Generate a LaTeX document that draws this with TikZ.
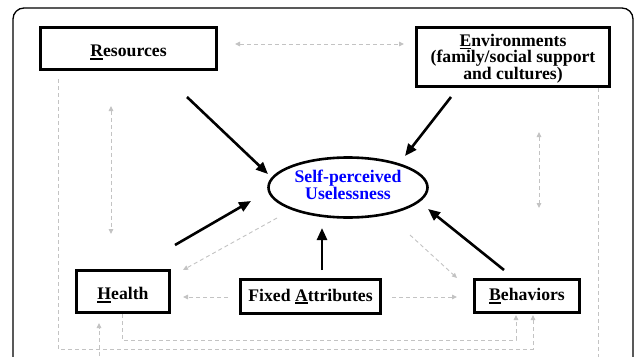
\documentclass[tikz,border=0pt]{standalone}
\usepackage{fontspec}
\setmainfont{Liberation Serif}
\usetikzlibrary{arrows.meta,shapes.geometric}
\definecolor{lgray}{RGB}{195,195,195}
\newcommand{\fu}[1]{\setbox0\hbox{#1}\rlap{\rule[-3pt]{\wd0}{1.8pt}}\box0}
\begin{document}
\begin{tikzpicture}[x=1pt,y=-1pt,
  box/.style={draw,line width=3pt,inner sep=0pt,align=center,font=\fontsize{17.7}{15}\selectfont\bfseries},
  lowtext/.style={text height=16.5pt,text depth=0pt},
  blk/.style={line width=2.6pt,-{Triangle[length=12pt,width=10pt]}},
  gry/.style={draw=lgray,line width=0.9pt,dash pattern=on 4pt off 3pt},
  gtip/.style={-{Triangle[length=5pt,width=4.5pt]}},
  gtips/.style={{Triangle[length=5pt,width=4.5pt]}-{Triangle[length=5pt,width=4.5pt]}}]
\clip (0,0) rectangle (634,356);
\fill[white] (0,0) rectangle (634,356);
\draw[line width=1.3pt,rounded corners=11pt] (13,8) rectangle (633,420);
% nodes
\node[box,lowtext,minimum width=176pt,minimum height=42pt] (res) at (128.5,48.5) {\fu{R}esources};
\node[box,text depth=0pt,minimum width=193pt,minimum height=59pt] (env) at (513,57) {\fu{E}nvironments\\(family/social support\\and cultures)};
\node[box,lowtext,minimum width=93pt,minimum height=42pt] (hl) at (123,291.5) {\fu{H}ealth};
\node[box,minimum width=140pt,minimum height=34pt] (fa) at (310.5,296.5) {Fixed \fu{A}ttributes};
\node[box,minimum width=105pt,minimum height=33pt] (bh) at (527,296) {\fu{B}ehaviors};
\node[ellipse,draw,line width=2.6pt,minimum width=159pt,minimum height=60pt,inner sep=0pt,text depth=6pt,
  text=blue,align=center,font=\fontsize{17.7}{14}\selectfont\bfseries] (spu) at (348,187.5) {Self-perceived\\Uselessness};
% black arrows
\coordinate (a1s) at (187,97);  \coordinate (a1e) at (268,174);
\coordinate (a2s) at (451,97);  \coordinate (a2e) at (405,156);
\coordinate (a3s) at (175,245); \coordinate (a3e) at (251,201);
\coordinate (a4s) at (322,270); \coordinate (a4e) at (322,228);
\coordinate (a5s) at (504,270); \coordinate (a5e) at (428,209);
\draw[blk] (a1s) -- (a1e);
\draw[blk] (a2s) -- (a2e);
\draw[blk] (a3s) -- (a3e);
\draw[blk] (a4s) -- (a4e);
\draw[blk] (a5s) -- (a5e);
% gray dashed
\coordinate (t1) at (235,44);  \coordinate (t2) at (404,44);
\coordinate (l1) at (111,106); \coordinate (l2) at (111,234);
\coordinate (r1) at (539,132); \coordinate (r2) at (539,208);
\coordinate (eh1) at (277,218); \coordinate (eh2) at (183,270);
\coordinate (eb1) at (410,235); \coordinate (eb2) at (457,278);
\coordinate (fh1) at (228,297); \coordinate (fh2) at (183,297);
\coordinate (fb1) at (392,297); \coordinate (fb2) at (457,297);
\coordinate (hb0) at (122,314); \coordinate (hb1) at (122,340); \coordinate (hb2) at (516,340); \coordinate (hb3) at (516,315);
\coordinate (ol0) at (58,79); \coordinate (ol1) at (58,349); \coordinate (ol2) at (533,349); \coordinate (ol3) at (533,315);
\coordinate (er0) at (598,88); \coordinate (er1) at (598,370);
\coordinate (up0) at (99,370); \coordinate (up1) at (99,323);
\draw[gry,gtips] (t1) -- (t2);
\draw[gry,gtips] (l1) -- (l2);
\draw[gry,gtips] (r1) -- (r2);
\draw[gry,gtip] (eh1) -- (eh2);
\draw[gry,gtip] (eb1) -- (eb2);
\draw[gry,gtip] (fh1) -- (fh2);
\draw[gry,gtip] (fb1) -- (fb2);
\draw[gry,gtip] (hb0) -- (hb1) -- (hb2) -- (hb3);
\draw[gry,gtip] (ol0) -- (ol1) -- (ol2) -- (ol3);
\draw[gry] (er0) -- (er1);
\draw[gry,gtip] (up0) -- (up1);
\end{tikzpicture}
\end{document}
